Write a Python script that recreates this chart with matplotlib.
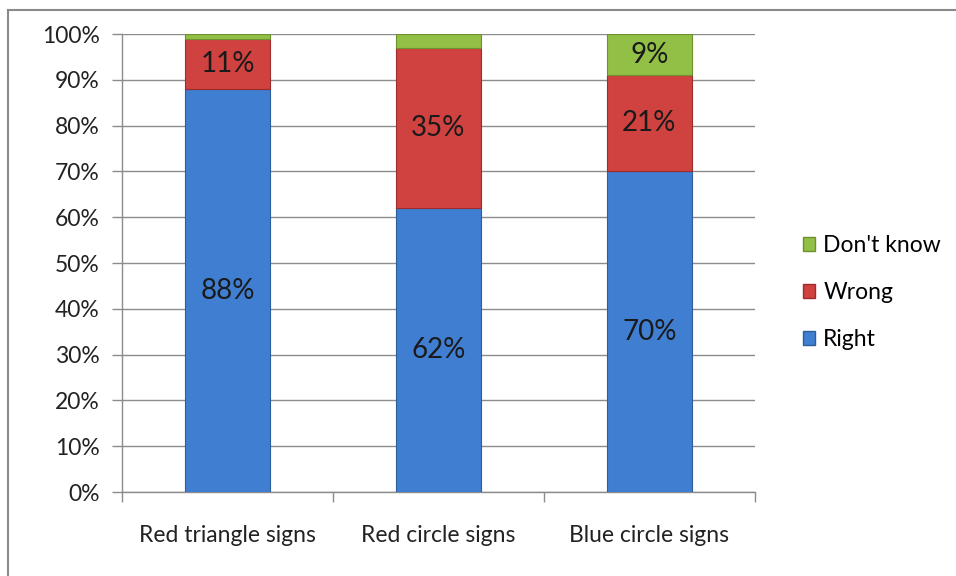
import matplotlib
matplotlib.use("Agg")
import matplotlib.pyplot as plt
from matplotlib.patches import Patch
from matplotlib.lines import Line2D
import numpy as np

plt.rcParams['font.family'] = ['Lato', 'DejaVu Sans']

categories = ["Red triangle signs", "Red circle signs", "Blue circle signs"]
right = [88, 62, 70]
wrong = [11, 35, 21]
dont_know = [1, 3, 9]
series_names = ["Right", "Wrong", "Don't know"]
yticks = [0, 10, 20, 30, 40, 50, 60, 70, 80, 90, 100]

colors = {"Right": "#3F7ED1", "Wrong": "#CF4240", "Don't know": "#92BF45"}
edges = {"Right": "#2C5E9E", "Wrong": "#9E2C2A", "Don't know": "#6E9130"}

fig = plt.figure(figsize=(9.56, 5.76), dpi=100)
ax = fig.add_axes([0.1276, 0.1458, 0.662, 0.795])

x = np.arange(len(categories))
width = 0.4
bottoms = np.zeros(len(categories))
for name, vals in zip(series_names, [right, wrong, dont_know]):
    ax.bar(x, vals, width, bottom=bottoms, color=colors[name],
           edgecolor=edges[name], linewidth=0.8, label=name, zorder=3)
    for xi, b, v in zip(x, bottoms, vals):
        if v >= 5:
            ax.text(xi, b + v / 2, f"{v}%", ha="center", va="center",
                    fontsize=20, color="#1a1a1a", zorder=4)
    bottoms = bottoms + np.array(vals)

ax.set_xlim(-0.5, len(categories) - 0.5)
ax.set_ylim(0, 100)
ax.set_yticks(yticks)
ax.set_yticklabels([f"{t}%" for t in yticks], fontsize=16.5, color="#222222")
ax.yaxis.grid(True, color="#8c8c8c", linewidth=1.0, zorder=0)
ax.set_axisbelow(True)

ax.set_xticks(x)
ax.set_xticklabels(categories, fontsize=16.5, color="#222222")
ax.tick_params(axis="x", length=0, pad=24)
ax.tick_params(axis="y", length=7, color="#8c8c8c", width=1.0, pad=9)
ax.set_xticks(np.arange(-0.5, len(categories), 1.0), minor=True)
ax.tick_params(axis="x", which="minor", length=7, color="#8c8c8c", width=1.0)

for s in ["top", "right"]:
    ax.spines[s].set_visible(False)
for s in ["left", "bottom"]:
    ax.spines[s].set_color("#8c8c8c")
    ax.spines[s].set_linewidth(1.0)

leg_handles = [Patch(facecolor=colors[n], edgecolor=edges[n]) for n in reversed(series_names)]
fig.legend(leg_handles, list(reversed(series_names)), loc="center left",
           bbox_to_anchor=(0.818, 0.492), frameon=False, fontsize=16.5,
           handlelength=0.55, handleheight=0.55, handletextpad=0.35,
           labelspacing=1.12)

fig.add_artist(Line2D([0.008, 0.008], [0.0, 0.983], transform=fig.transFigure,
                      color="#8a8a8a", linewidth=1.5))
fig.add_artist(Line2D([0.008, 1.0], [0.983, 0.983], transform=fig.transFigure,
                      color="#8a8a8a", linewidth=1.5))

fig.savefig("out.png", dpi=100)
